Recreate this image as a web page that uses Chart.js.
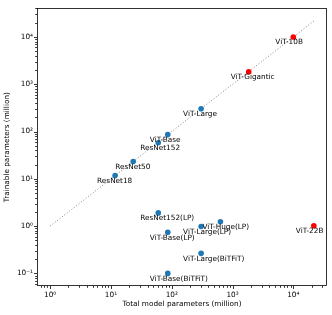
<!DOCTYPE html>
<html>
<head>
<meta charset="utf-8">
<script src="https://cdn.jsdelivr.net/npm/chart.js@4.4.1/dist/chart.umd.min.js"></script>
<style>
  body { margin: 0; background: #fff; }
  canvas { display: block; }
</style>
</head>
<body>
<canvas id="myChart" width="332" height="315"></canvas>
<script>
// blue = standard models / fine-tuning variants
const blueNames = ['ResNet18', 'ResNet50', 'ResNet152', 'ViT-Base', 'ViT-Large',
    'ResNet152(LP)', 'ViT-Base(LP)', 'ViT-Large(LP)', 'ViT-Huge(LP)',
    'ViT-Base(BiTFiT)', 'ViT-Large(BiTFiT)'];
const blueTotal = [11.7, 23.2, 60, 86, 304, 60, 86, 304, 632, 86, 304];
const blueTrainable = [11.7, 23.2, 58, 86, 304, 1.9, 0.74, 0.98, 1.24, 0.1, 0.265];

// red = very large models
const redNames = ['ViT-Gigantic', 'ViT-10B', 'ViT-22B'];
const redTotal = [1843, 10000, 21743];
const redTrainable = [1843, 10000, 1.02];

// y = x reference line
const refLine = [1, 21743];

const xTicks = [1, 10, 100, 1000, 10000];
const xTickLabels = ['10\u2070', '10\u00b9', '10\u00b2', '10\u00b3', '10\u2074'];
const yTicks = [0.1, 1, 10, 100, 1000, 10000];
const yTickLabels = ['10\u207b\u00b9', '10\u2070', '10\u00b9', '10\u00b2', '10\u00b3', '10\u2074'];

const FONT = '"DejaVu Sans", sans-serif';
const FS = 7.3;

function withMinors(majors, min, max) {
    const out = [];
    const lo = Math.floor(Math.log10(min)) - 1;
    const hi = Math.ceil(Math.log10(max)) + 1;
    for (let e = lo; e <= hi; e++) {
        for (let m = 1; m < 10; m++) {
            const v = m * Math.pow(10, e);
            if (v >= min && v <= max) out.push(v);
        }
    }
    return out.sort((a, b) => a - b).map(v => ({value: v}));
}

function isMajor(v, majors) {
    return majors.some(m => Math.abs(v - m) / m < 1e-6);
}

const xMin = 0.607, xMax = 35800;
const yMin = 0.0541, yMax = 40200;

const framePlugin = {
    id: 'frame',
    afterDraw(chart) {
        const c = chart.ctx;
        const a = chart.chartArea;
        const xs = chart.scales.x, ys = chart.scales.y;
        c.save();
        c.strokeStyle = '#000';
        c.lineWidth = 0.8;
        c.strokeRect(Math.round(a.left) + 0.5, Math.round(a.top) + 0.5,
            Math.round(a.right - a.left) - 1, Math.round(a.bottom - a.top) - 1);
        xs.ticks.forEach(t => {
            const px = Math.round(xs.getPixelForValue(t.value)) + 0.5;
            const len = isMajor(t.value, xTicks) ? 3 : 1.8;
            c.beginPath();
            c.moveTo(px, a.bottom);
            c.lineTo(px, a.bottom + len);
            c.stroke();
        });
        ys.ticks.forEach(t => {
            const py = Math.round(ys.getPixelForValue(t.value)) + 0.5;
            const len = isMajor(t.value, yTicks) ? 3 : 1.8;
            c.beginPath();
            c.moveTo(a.left, py);
            c.lineTo(a.left - len, py);
            c.stroke();
        });
        c.restore();
    }
};

const labelPlugin = {
    id: 'pointLabels',
    afterDatasetsDraw(chart) {
        const c = chart.ctx;
        const xs = chart.scales.x, ys = chart.scales.y;
        c.save();
        c.font = FS + 'px ' + FONT;
        c.fillStyle = '#000';
        c.textAlign = 'left';
        c.textBaseline = 'middle';
        const put = (names, xv, yv) => {
            names.forEach((n, i) => {
                const px = xs.getPixelForValue(xv[i]);
                const py = ys.getPixelForValue(yv[i]);
                c.fillText(n, px - 18, py + 5.5);
            });
        };
        put(blueNames, blueTotal, blueTrainable);
        put(redNames, redTotal, redTrainable);
        c.restore();
    }
};

const ctx = document.getElementById('myChart').getContext('2d');

const graphData = {
    type: 'scatter',
    data: {
        datasets: [{
            data: blueTotal.map((v, i) => ({x: v, y: blueTrainable[i]})),
            backgroundColor: '#1f77b4',
            borderWidth: 0,
            pointRadius: 2.8,
            order: 1
        }, {
            data: redTotal.map((v, i) => ({x: v, y: redTrainable[i]})),
            backgroundColor: '#ff0000',
            borderWidth: 0,
            pointRadius: 2.8,
            order: 1
        }, {
            type: 'line',
            data: refLine.map(v => ({x: v, y: v})),
            borderColor: '#808080',
            borderWidth: 1,
            borderDash: [1, 2],
            pointRadius: 0,
            fill: false,
            order: 2
        }]
    },
    options: {
        responsive: false,
        animation: false,
        events: [],
        layout: {padding: {top: 5, right: 5, left: 0, bottom: 0}},
        plugins: {legend: {display: false}, tooltip: {enabled: false}},
        scales: {
            x: {
                type: 'logarithmic',
                bounds: 'data',
                min: xMin,
                max: xMax,
                afterBuildTicks: s => { s.ticks = withMinors(xTicks, xMin, xMax); },
                afterFit: s => { s.height = 29; },
                grid: {display: false, drawTicks: false},
                border: {display: false},
                ticks: {
                    autoSkip: false,
                    maxRotation: 0,
                    padding: 4.5,
                    color: '#000',
                    font: {family: FONT, size: FS},
                    callback: v => {
                        const i = xTicks.findIndex(m => Math.abs(v - m) / m < 1e-6);
                        return i >= 0 ? xTickLabels[i] : '';
                    }
                },
                title: {
                    display: true,
                    text: 'Total model parameters (million)',
                    color: '#000',
                    font: {family: FONT, size: FS},
                    padding: {top: 0, bottom: 6.6}
                }
            },
            y: {
                type: 'logarithmic',
                bounds: 'data',
                min: yMin,
                max: yMax,
                afterBuildTicks: s => { s.ticks = withMinors(yTicks, yMin, yMax); },
                afterFit: s => { s.width = 37; },
                grid: {display: false, drawTicks: false},
                border: {display: false},
                ticks: {
                    autoSkip: false,
                    padding: 4,
                    color: '#000',
                    font: {family: FONT, size: FS},
                    callback: v => {
                        const i = yTicks.findIndex(m => Math.abs(v - m) / m < 1e-6);
                        return i >= 0 ? yTickLabels[i] : '';
                    }
                },
                title: {
                    display: true,
                    text: 'Trainable parameters (million)',
                    color: '#000',
                    font: {family: FONT, size: FS},
                    padding: {top: 2.6, bottom: 0}
                }
            }
        }
    },
    plugins: [framePlugin, labelPlugin]
};

const myChart = new Chart(ctx, graphData);
</script>
</body>
</html>
